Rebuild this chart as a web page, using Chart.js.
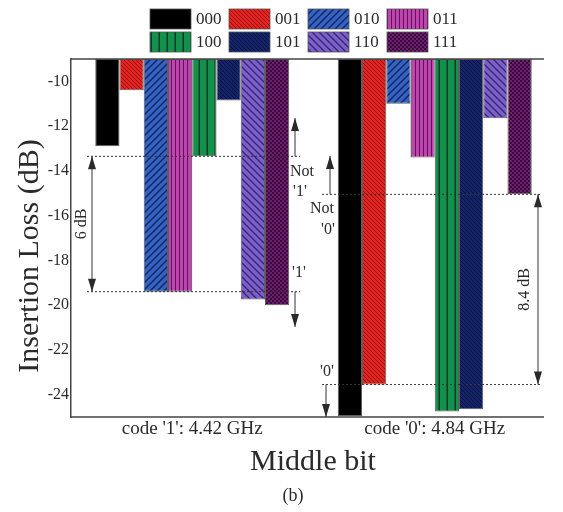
<!DOCTYPE html>
<html>
<head>
<meta charset="utf-8">
<script src="https://cdn.jsdelivr.net/npm/chart.js@4"></script>
<style>
  html, body { margin: 0; padding: 0; background: #fff; }
  #wrap { width: 563px; height: 512px; }
</style>
</head>
<body>
<div id="wrap"><canvas id="chart" width="563" height="512"></canvas></div>
<script>
// ---------- DATA ----------
const categories = ["code '1': 4.42 GHz", "code '0': 4.84 GHz"];
const codes = ['000', '001', '010', '011', '100', '101', '110', '111'];
// insertion loss (dB) per code, for the two middle-bit states
const lossCode1 = [-12.9, -10.4, -19.4, -19.4, -13.35, -10.85, -19.75, -20.0];
const lossCode0 = [-24.95, -23.55, -11.0, -13.4, -24.75, -24.65, -11.65, -15.05];
const yTicks = [-24, -22, -20, -18, -16, -14, -12, -10];
const yTop = -9;
const yBottom = -25;

const SERIF = '"Liberation Serif", "Times New Roman", serif';
const INK = '#2a2a2a';

// ---------- PATTERNS ----------
const canvas = document.getElementById('chart');
const ctx = canvas.getContext('2d');

function makePattern(size, base, draw) {
    const c = document.createElement('canvas');
    c.width = c.height = size;
    const g = c.getContext('2d');
    g.fillStyle = base;
    g.fillRect(0, 0, size, size);
    if (draw) draw(g, size);
    return ctx.createPattern(c, 'repeat');
}
const slashes = (color, lw) => (g, p) => {
    g.strokeStyle = color; g.lineWidth = lw;
    g.beginPath();
    g.moveTo(0, p); g.lineTo(p, 0);
    g.moveTo(-1, 1); g.lineTo(1, -1);
    g.moveTo(p - 1, p + 1); g.lineTo(p + 1, p - 1);
    g.stroke();
};
const backslashes = (color, lw) => (g, p) => {
    g.strokeStyle = color; g.lineWidth = lw;
    g.beginPath();
    g.moveTo(0, 0); g.lineTo(p, p);
    g.moveTo(p - 1, -1); g.lineTo(p + 1, 1);
    g.moveTo(-1, p - 1); g.lineTo(1, p + 1);
    g.stroke();
};
const verticals = (color, lw) => (g, p) => {
    g.fillStyle = color;
    g.fillRect(p - lw, 0, lw, p);
};
const checks = (color) => (g, p) => {
    g.fillStyle = color;
    g.fillRect(0, 0, p / 2, p / 2);
    g.fillRect(p / 2, p / 2, p / 2, p / 2);
};

const fills = [
    '#000000',
    makePattern(4, '#e3231f', backslashes('#9a1010', 1)),
    makePattern(7, '#3563c4', slashes('#13245e', 1.4)),
    makePattern(4, '#c044b0', verticals('#5e1458', 1)),
    makePattern(8, '#13904c', verticals('#0b3a22', 1.5)),
    makePattern(4, '#14246a', backslashes('#0a123c', 1)),
    makePattern(7, '#7c5fcb', backslashes('#36266e', 1.3)),
    makePattern(4, '#6f1f70', checks('#3c0b3e'))
];

// ---------- DECORATION PLUGIN ----------
function arrowHead(c, x, y, dir) {
    c.beginPath();
    c.moveTo(x, y);
    c.lineTo(x - 4, y - dir * 13);
    c.lineTo(x + 4, y - dir * 13);
    c.closePath();
    c.fill();
}
function vArrow(c, x, y1, y2, both) {
    c.beginPath();
    c.moveTo(x, y1); c.lineTo(x, y2);
    c.stroke();
    const dir = y2 > y1 ? 1 : -1;
    arrowHead(c, x, y2, dir);
    if (both) arrowHead(c, x, y1, -dir);
}
function dotted(c, x1, x2, y) {
    c.save();
    c.setLineDash([2, 2]);
    c.beginPath();
    c.moveTo(x1, y); c.lineTo(x2, y);
    c.stroke();
    c.restore();
}
function text(c, s, x, y, size, rot) {
    c.save();
    c.translate(x, y);
    if (rot) c.rotate(rot);
    c.font = size + 'px ' + SERIF;
    c.textAlign = 'center';
    c.textBaseline = 'middle';
    c.fillText(s, 0, 0);
    c.restore();
}

const decor = {
    id: 'decor',
    afterDraw(chart) {
        const c = chart.ctx;
        const area = chart.chartArea;
        const y = chart.scales.y;
        c.save();
        c.strokeStyle = '#444';
        c.fillStyle = INK;
        c.lineWidth = 1.5;

        // frame lines
        c.beginPath();
        c.moveTo(area.left, area.top); c.lineTo(544, area.top);
        c.moveTo(area.left, area.bottom); c.lineTo(544, area.bottom);
        c.stroke();

        // titles
        text(c, 'Insertion Loss (dB)', 30, 256, 30, -Math.PI / 2);
        text(c, 'Middle bit', 313, 462, 30);
        text(c, '(b)', 293, 496, 18);

        // legend
        codes.forEach((code, i) => {
            const col = i % 4, row = Math.floor(i / 4);
            const bx = 150 + col * 79, by = 9 + row * 23;
            c.fillStyle = fills[i];
            c.fillRect(bx, by, 41, 20);
            c.lineWidth = 0.8;
            c.strokeStyle = '#555';
            c.strokeRect(bx, by, 41, 20);
            c.fillStyle = INK;
            c.font = '17px ' + SERIF;
            c.textAlign = 'left';
            c.textBaseline = 'middle';
            c.fillText(code, bx + 46, by + 11);
        });

        // annotations
        c.strokeStyle = '#333';
        c.fillStyle = INK;
        c.lineWidth = 1;
        const a1 = y.getPixelForValue(lossCode1[4]);
        const b1 = y.getPixelForValue(lossCode1[2]);
        const a0 = y.getPixelForValue(lossCode0[7]);
        const b0 = y.getPixelForValue(lossCode0[1]);

        dotted(c, 87, 300, a1);
        dotted(c, 87, 300, b1);
        dotted(c, 322, 541, a0);
        dotted(c, 322, 541, b0);

        vArrow(c, 92, a1, b1, true);
        text(c, '6 dB', 82, (a1 + b1) / 2, 16, -Math.PI / 2);
        vArrow(c, 538, a0, b0, true);
        text(c, '8.4 dB', 525, (a0 + b0) / 2, 16, -Math.PI / 2);

        vArrow(c, 295, a1, 118);
        text(c, 'Not', 302, 172, 16);
        text(c, "'1'", 300, 192, 16);
        text(c, "'1'", 299, 273, 16);
        vArrow(c, 295, b1, 327);

        vArrow(c, 330, a0, 156);
        text(c, 'Not', 322, 209, 16);
        text(c, "'0'", 328, 230, 16);
        text(c, "'0'", 327, 372, 16);
        vArrow(c, 326, b0, area.bottom);

        c.restore();
    }
};

// ---------- CHART ----------
const datasets = codes.map((code, i) => ({
    label: code,
    data: [[yTop, lossCode1[i]], [yTop, lossCode0[i]]],
    backgroundColor: fills[i],
    borderColor: 'rgba(40,40,40,0.75)',
    borderWidth: 1,
    borderSkipped: false,
    categoryPercentage: 0.8,
    barPercentage: 1.0
}));

new Chart(canvas, {
    type: 'bar',
    data: { labels: categories, datasets },
    options: {
        responsive: false,
        animation: false,
        devicePixelRatio: 1,
        layout: { padding: { top: 59, right: 7, left: 0, bottom: 0 } },
        plugins: { legend: { display: false }, tooltip: { enabled: false } },
        scales: {
            x: {
                grid: { display: false, drawTicks: false },
                border: { display: false },
                ticks: { color: INK, font: { family: SERIF, size: 19 }, padding: 1, maxRotation: 0 },
                afterFit: (s) => { s.height = 95; }
            },
            y: {
                min: yBottom,
                max: yTop,
                grid: { display: false, drawTicks: false },
                border: { display: true, color: '#444', width: 1.5 },
                ticks: { color: INK, font: { family: SERIF, size: 16 }, padding: 2 },
                afterBuildTicks: (s) => { s.ticks = yTicks.map(v => ({ value: v })); },
                afterFit: (s) => { s.width = 71; }
            }
        }
    },
    plugins: [decor]
});
</script>
</body>
</html>
